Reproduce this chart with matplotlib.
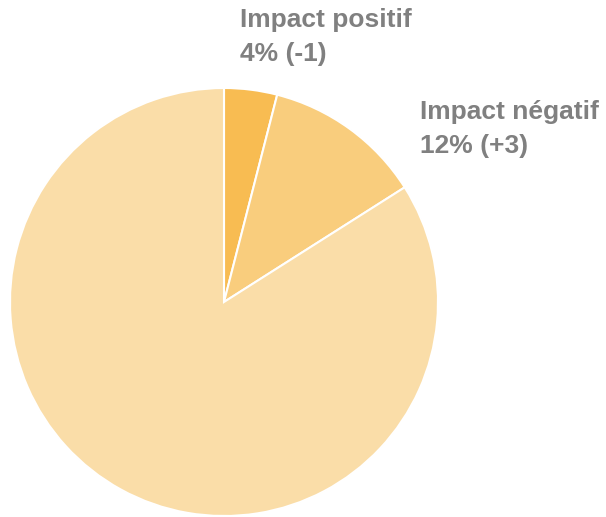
import matplotlib.pyplot as plt

# Share of impacts (%)
labels = ['Impact positif', 'Impact négatif', 'Sans impact']
shares = [4, 12, 84]
changes = ['-1', '+3', '']
colors = ['#F8BC52', '#F9CD7D', '#FADDA8']

W, H = 606, 517
fig = plt.figure(figsize=(W / 100, H / 100), dpi=100)

# pie box in pixels: left 10, top 88, size 428
ax = fig.add_axes([10 / W, (H - 88 - 428) / H, 428 / W, 428 / H])
ax.pie(shares, colors=colors, startangle=90, counterclock=False,
       wedgeprops=dict(edgecolor='white', linewidth=1.5))
ax.set_xlim(-1, 1)
ax.set_ylim(-1, 1)
ax.axis('off')

# labels for the two small slices (left x, first baseline y in pixels)
label_pos = [(240, 27), (420, 119)]
for i, (px, py) in enumerate(label_pos):
    lines = [labels[i], '%d%% (%s)' % (shares[i], changes[i])]
    for j, line in enumerate(lines):
        fig.text(px / W, 1 - (py + 34 * j) / H, line,
                 ha='left', va='baseline', fontsize=19, fontweight='bold',
                 color='#808080', family='Liberation Sans')

fig.savefig('out.png', dpi=100)
